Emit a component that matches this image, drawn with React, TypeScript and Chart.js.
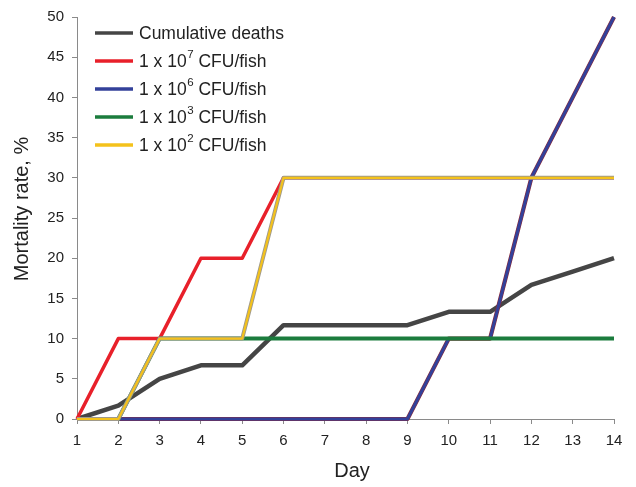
import { useEffect, useRef } from "react";
import { Chart, registerables } from "chart.js";

Chart.register(...registerables);

const days = [1, 2, 3, 4, 5, 6, 7, 8, 9, 10, 11, 12, 13, 14];
const cumulativeDeaths = [0, 1.67, 5, 6.67, 6.67, 11.67, 11.67, 11.67, 11.67, 13.33, 13.33, 16.67, 18.33, 20];
const dose1e7 = [0, 10, 10, 20, 20, 30, 30, 30, 30, 30, 30, 30, 30, 30];
const dose1e6 = [0, 0, 0, 0, 0, 0, 0, 0, 0, 10, 10, 30, 40, 50];
const dose1e3 = [0, 0, 10, 10, 10, 10, 10, 10, 10, 10, 10, 10, 10, 10];
const dose1e2 = [0, 0, 10, 10, 10, 30, 30, 30, 30, 30, 30, 30, 30, 30];

const legendBases = ["Cumulative deaths", "1 x 10", "1 x 10", "1 x 10", "1 x 10"];
const legendExponents = ["", "7", "6", "3", "2"];
const legendSuffixes = ["", " CFU/fish", " CFU/fish", " CFU/fish", " CFU/fish"];
const legendColors = ["#454545", "#e8202a", "#33419a", "#1b7c3d", "#f4c21b"];

const xTitle = "Day";
const yTitle = "Mortality rate, %";

const FONT = "'Liberation Sans', Arial, sans-serif";

const toPoints = (vals: number[]) => days.map((d, i) => ({ x: d, y: vals[i] }));

const decorPlugin = {
  id: "decor",
  afterDraw(chart: any) {
    const ctx = chart.ctx;
    ctx.save();
    // axis titles
    ctx.fillStyle = "#222";
    ctx.textAlign = "center";
    ctx.textBaseline = "middle";
    ctx.font = `20px ${FONT}`;
    ctx.fillText(xTitle, 352, 471);
    ctx.save();
    ctx.translate(22, 209);
    ctx.rotate(-Math.PI / 2);
    ctx.fillText(yTitle, 0, 0);
    ctx.restore();
    // legend
    const x0 = 95;
    const x1 = 133;
    const tx = 139;
    const y0 = 33;
    const gap = 28;
    legendBases.forEach((base, i) => {
      const y = y0 + i * gap;
      ctx.strokeStyle = legendColors[i];
      ctx.lineWidth = 3.5;
      ctx.lineCap = "butt";
      ctx.beginPath();
      ctx.moveTo(x0, y);
      ctx.lineTo(x1, y);
      ctx.stroke();
      ctx.fillStyle = "#222";
      ctx.textBaseline = "middle";
      ctx.textAlign = "left";
      ctx.font = `17.5px ${FONT}`;
      ctx.fillText(base, tx, y + 1);
      let cx = tx + ctx.measureText(base).width;
      if (legendExponents[i]) {
        ctx.font = `11.5px ${FONT}`;
        ctx.fillText(legendExponents[i], cx + 0.5, y - 6);
        cx += ctx.measureText(legendExponents[i]).width + 0.5;
        ctx.font = `17.5px ${FONT}`;
        ctx.fillText(legendSuffixes[i], cx, y + 1);
      }
    });
    ctx.restore();
  },
};

export default function App() {
  const ref = useRef<HTMLCanvasElement>(null);
  useEffect(() => {
    document.body.style.margin = "0";
    const canvas = ref.current;
    if (!canvas) return;
    const common = {
      pointRadius: 0,
      pointHoverRadius: 0,
      fill: false,
      tension: 0,
      borderJoinStyle: "round" as const,
      borderCapStyle: "butt" as const,
      clip: false as const,
    };
    const chart = new Chart(canvas, {
      type: "line",
      data: {
        datasets: [
          { ...common, data: toPoints(dose1e2), borderColor: "#f4c21b", borderWidth: 2.2, order: 1 },
          { ...common, data: toPoints(dose1e2), borderColor: "#a09a8a", borderWidth: 4, order: 2 },
          { ...common, data: toPoints(dose1e3), borderColor: "#1b7c3d", borderWidth: 4, order: 3 },
          { ...common, data: toPoints(dose1e7), borderColor: "#e8202a", borderWidth: 3.5, order: 4 },
          { ...common, data: toPoints(dose1e6), borderColor: "#33419a", borderWidth: 3, order: 5 },
          { ...common, data: toPoints(dose1e6), borderColor: "#8a2a3a", borderWidth: 4.2, order: 6 },
          { ...common, data: toPoints(cumulativeDeaths), borderColor: "#454545", borderWidth: 4.5, order: 7 },
        ],
      },
      options: {
        responsive: false,
        animation: false,
        events: [],
        layout: { padding: { top: 17, right: 22, left: 0, bottom: 0 } },
        plugins: { legend: { display: false }, tooltip: { enabled: false } },
        scales: {
          x: {
            type: "linear",
            min: 1,
            max: 14,
            afterFit: (s: any) => {
              s.height = 68;
            },
            ticks: { stepSize: 1, color: "#222", padding: 8, font: { family: FONT, size: 15 }, maxRotation: 0, autoSkip: false },
            grid: { drawOnChartArea: false, drawTicks: true, tickLength: 5, color: "#8a8a8a", lineWidth: 1 },
            border: { color: "#8a8a8a", width: 1 },
          },
          y: {
            min: 0,
            max: 50,
            afterFit: (s: any) => {
              s.width = 77;
            },
            ticks: { stepSize: 5, color: "#222", padding: 8, font: { family: FONT, size: 15 } },
            grid: { drawOnChartArea: false, drawTicks: true, tickLength: 5, color: "#8a8a8a", lineWidth: 1 },
            border: { color: "#8a8a8a", width: 1 },
          },
        },
      },
      plugins: [decorPlugin],
    });
    return () => chart.destroy();
  }, []);
  return <canvas ref={ref} width={636} height={487} style={{ display: "block" }} />;
}
